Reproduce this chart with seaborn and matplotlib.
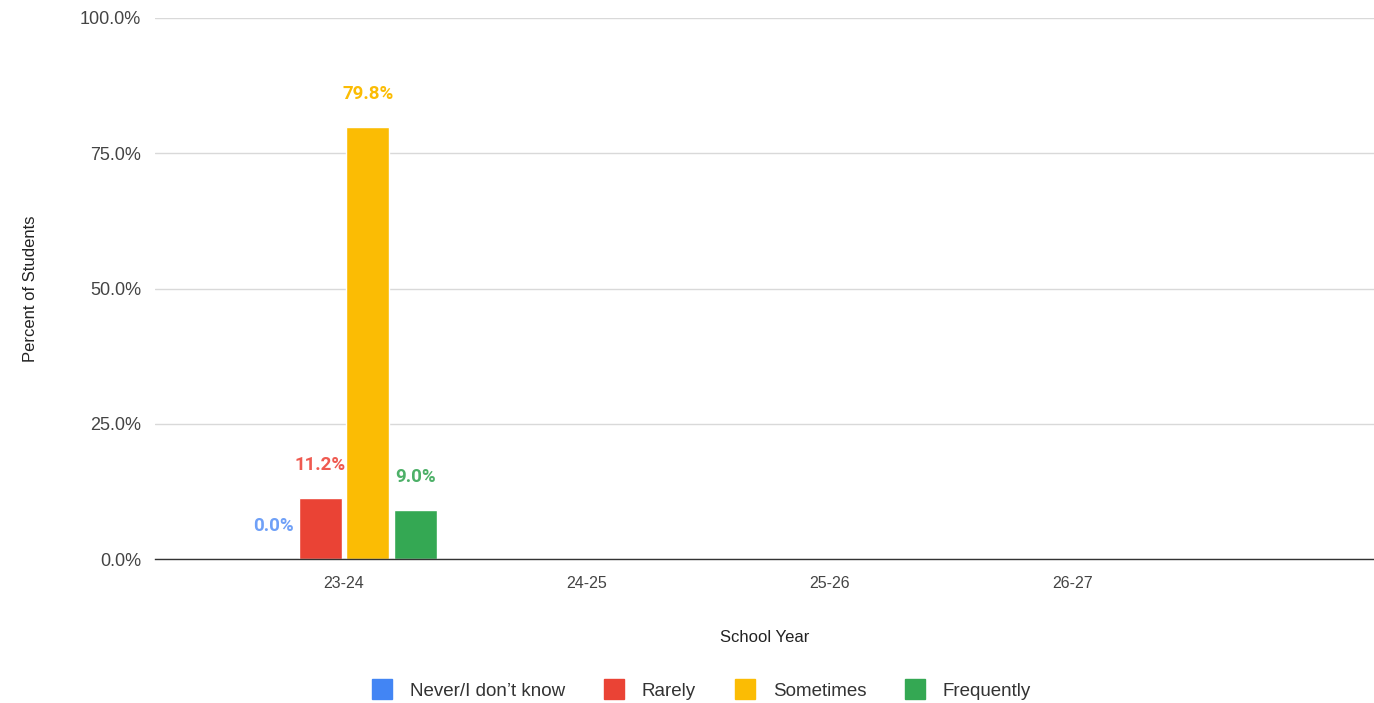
import pandas as pd
import matplotlib.pyplot as plt
import seaborn as sns
from matplotlib.lines import Line2D
from matplotlib.ticker import FuncFormatter

# Daten
years = ['23-24', '24-25', '25-26', '26-27']
responses = ['Never/I don\u2019t know', 'Rarely', 'Sometimes', 'Frequently']
year_2324 = [0.0, 11.2, 79.8, 9.0]

bar_colors = ['#4285F4', '#EA4335', '#FBBC04', '#34A853']
label_colors = ['#6FA0F7', '#EF5A50', '#FBBC04', '#4DB068']

sns.set_theme(style="white")
plt.rcParams['font.family'] = ['Liberation Sans', 'DejaVu Sans']

df = pd.DataFrame({
    'School Year': ['23-24'] * len(responses),
    'Response': responses,
    'Percent': year_2324,
})

fig = plt.figure(figsize=(13.74, 7.03), dpi=100)
ax = fig.add_axes([155 / 1374, 1 - 559 / 703, 1 - 155 / 1374, 541 / 703])

sns.barplot(
    data=df, x='School Year', y='Percent', hue='Response',
    order=years, hue_order=responses, palette=bar_colors,
    width=0.78, gap=0.09, ax=ax, legend=False, saturation=1,
)

# Werte annotieren
for cont, col in zip(ax.containers, label_colors):
    for bar in cont:
        h = bar.get_height()
        ax.annotate(f'{h:.1f}%', (bar.get_x() + bar.get_width() / 2, h),
                    xytext=(0, 24), textcoords='offset points',
                    ha='center', va='center', fontsize=13.5,
                    fontweight='bold', color=col,
                    family=['Roboto', 'DejaVu Sans'])

ax.set_ylim(0, 100)
ax.set_xlim(-0.778, 4.239)
ax.set_yticks([0, 25, 50, 75, 100])
ax.yaxis.set_major_formatter(FuncFormatter(lambda v, p: f'{v:.1f}%'))
ax.grid(axis='y', color='#d9d9d9', linewidth=1)
ax.set_axisbelow(True)
for s in ['top', 'right', 'left']:
    ax.spines[s].set_visible(False)
ax.spines['bottom'].set_color('#333333')
ax.spines['bottom'].set_linewidth(1)
ax.tick_params(axis='x', length=0, labelsize=11.5, colors='#444444', pad=12)
ax.tick_params(axis='y', length=0, labelsize=13, colors='#444444', pad=10)

ax.set_xlabel('School Year', fontsize=12, color='#222222', labelpad=28)
ax.set_ylabel('Percent of Students', fontsize=12, color='#222222', labelpad=30)

handles = [Line2D([], [], marker='s', linestyle='none', markersize=14,
                  markerfacecolor=c, markeredgecolor=c) for c in bar_colors]
fig.legend(handles, responses, loc='center', bbox_to_anchor=(697 / 1374, 1 - 691 / 703),
           ncol=4, frameon=False, fontsize=13.5, handletextpad=0.5,
           columnspacing=1.6, labelcolor='#333333')

fig.savefig('out.png', dpi=100)
